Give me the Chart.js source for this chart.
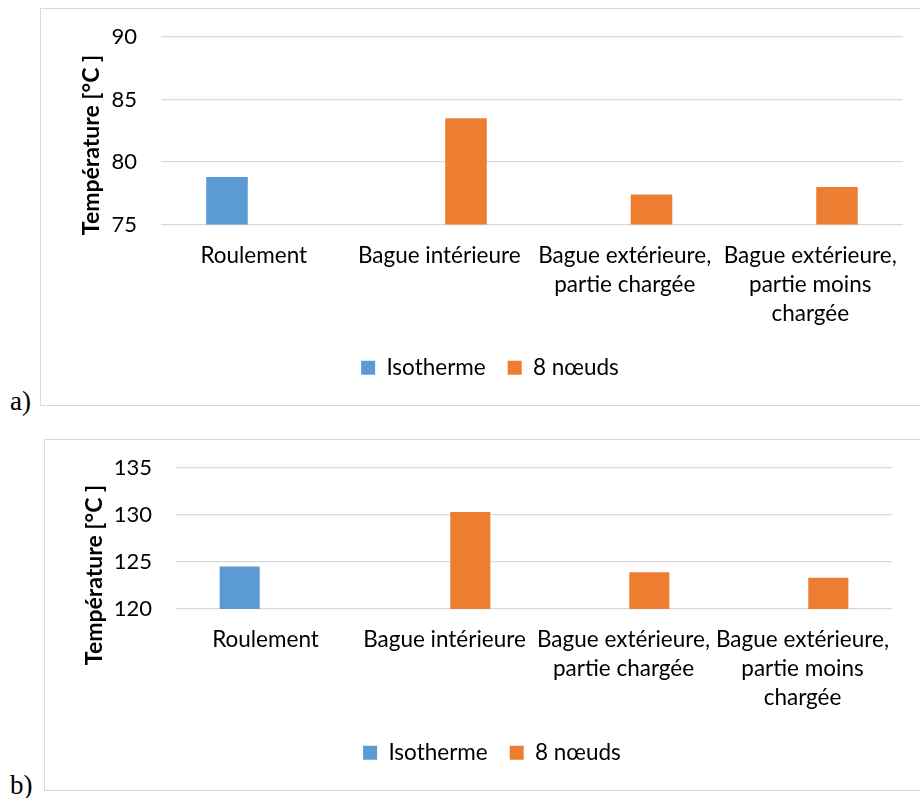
<!DOCTYPE html>
<html>
<head>
<meta charset="utf-8">
<script src="https://cdn.jsdelivr.net/npm/chart.js@4"></script>
<style>
  html, body { margin: 0; padding: 0; background: #fff; overflow: hidden; }
  body { width: 920px; height: 798px; position: relative; }
  .box { position: absolute; border: 1px solid #d9d9d9; box-sizing: border-box; }
  #boxA { left: 40px; top: 8px; width: 900px; height: 398px; }
  #boxB { left: 44px; top: 439px; width: 896px; height: 352px; }
  .lbl { position: absolute; font-family: "Liberation Serif", serif; font-size: 27px; color: #000; }
  #lblA { left: 10px; top: 386px; }
  #lblB { left: 10px; top: 770px; }
</style>
</head>
<body>
<div id="boxA" class="box"><canvas id="chartA"></canvas></div>
<div id="boxB" class="box"><canvas id="chartB"></canvas></div>
<div id="lblA" class="lbl">a)</div>
<div id="lblB" class="lbl">b)</div>
<script>
// categories and series
const categories = [
  ['Roulement'],
  ['Bague intérieure'],
  ['Bague extérieure,', 'partie chargée'],
  ['Bague extérieure,', 'partie moins', 'chargée']
];
const seriesNames = ['Isotherme', '8 nœuds'];
const seriesColors = ['#5B9BD5', '#ED7D31'];
const yTitle = 'Température [°C ]';

// a) values
const isothermeA = [78.8, null, null, null];
const noeudsA = [null, 83.5, 77.4, 78.0];
const yRangeA = [75, 90];

// b) values
const isothermeB = [124.5, null, null, null];
const noeudsB = [null, 130.3, 123.9, 123.3];
const yRangeB = [120, 135];

const yStep = 5;
const fontFamily = 'Lato, "Open Sans", sans-serif';

// draws the rotated y title where excel puts it
const yTitlePlugin = {
  id: 'yTitle',
  afterDraw(chart, args, opts) {
    const ctx = chart.ctx;
    ctx.save();
    ctx.translate(opts.x, opts.y);
    ctx.rotate(-Math.PI / 2);
    ctx.font = 'bold 23px ' + fontFamily;
    ctx.fillStyle = '#000';
    ctx.textAlign = 'center';
    ctx.textBaseline = 'middle';
    ctx.fillText(yTitle, 0, 0);
    ctx.restore();
  }
};

function makeChart(id, iso, noeuds, range, lay) {
  return new Chart(document.getElementById(id), {
    type: 'bar',
    data: {
      labels: categories,
      datasets: [
        { label: seriesNames[0], data: iso, backgroundColor: seriesColors[0] },
        { label: seriesNames[1], data: noeuds, backgroundColor: seriesColors[1] }
      ]
    },
    plugins: [yTitlePlugin],
    options: {
      responsive: true,
      maintainAspectRatio: false,
      animation: false,
      categoryPercentage: 0.577,
      barPercentage: 0.776,
      // same padding left and right so the legend stays centred on the canvas
      layout: { padding: { left: lay.side, right: lay.side, top: lay.top, bottom: lay.bottom } },
      plugins: {
        legend: {
          position: 'bottom',
          labels: {
            boxWidth: 14,
            boxHeight: 14,
            padding: 22,
            color: '#000',
            font: { family: fontFamily, size: 22.5 }
          }
        },
        tooltip: { enabled: false },
        yTitle: { x: lay.titleX, y: lay.titleY }
      },
      scales: {
        x: {
          grid: { display: false, drawTicks: false },
          border: { display: false },
          ticks: {
            color: '#000',
            maxRotation: 0,
            autoSkip: false,
            padding: 16.5,
            font: { family: fontFamily, size: 22.5, lineHeight: 1.29 }
          },
          afterFit(scale) { scale.height = lay.xHeight; }
        },
        y: {
          min: range[0],
          max: range[1],
          grid: { color: '#d9d9d9', lineWidth: 1.3, tickLength: 20, tickColor: 'transparent' },
          border: { display: false },
          ticks: {
            stepSize: yStep,
            color: '#000',
            padding: 4,
            font: { family: fontFamily, size: 22 }
          },
          afterFit(scale) { scale.width = lay.yWidth; }
        }
      }
    }
  });
}

makeChart('chartA', isothermeA, noeudsA, yRangeA,
  { side: 36, top: 28, bottom: 16, yWidth: 84, xHeight: 110, titleX: 51, titleY: 136 });
makeChart('chartB', isothermeB, noeudsB, yRangeB,
  { side: 47, top: 27.7, bottom: 16, yWidth: 84, xHeight: 110.6, titleX: 50, titleY: 135 });
</script>
</body>
</html>
